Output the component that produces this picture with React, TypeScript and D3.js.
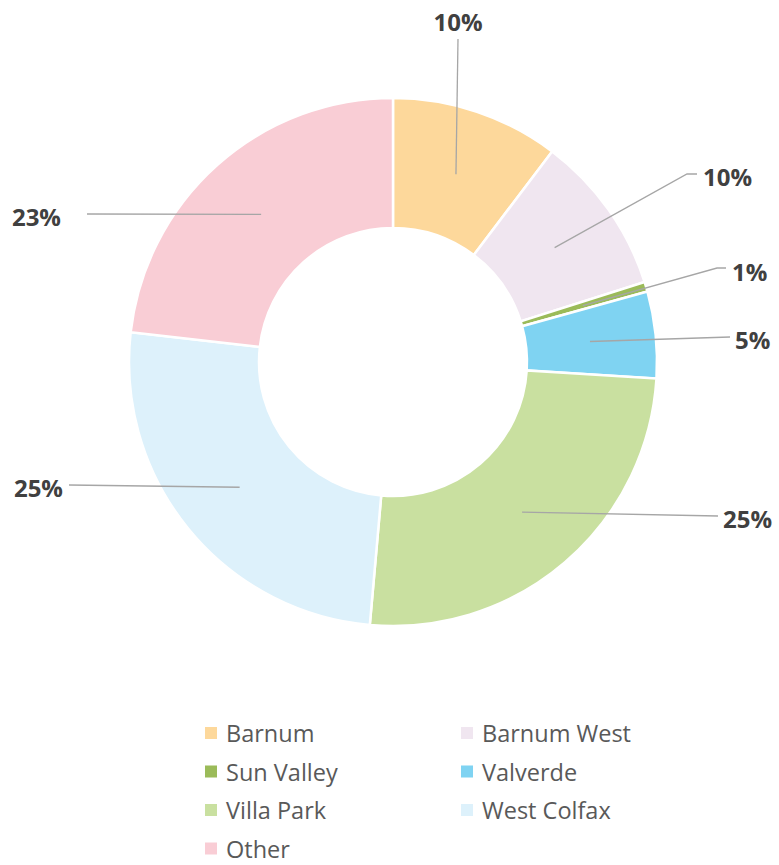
import React from "react";
import * as d3 from "d3";

const categories = ["Barnum", "Barnum West", "Sun Valley", "Valverde", "Villa Park", "West Colfax", "Other"];
const shares = [10.3, 9.8, 0.6, 5.3, 25.4, 25.4, 23.2];
const colors = ["#FDD89B", "#F0E6F0", "#9BBB59", "#7FD3F2", "#C9E0A0", "#DDF1FB", "#F9CDD5"];

// layout of the data-label leader lines (end point, optional elbow, text anchor)
const labelLayout = [
  { elbow: null, end: [458, 39], text: [458, 21], anchor: "middle" },
  { elbow: [687, 174], end: [697, 174], text: [703, 176], anchor: "start" },
  { elbow: [717, 268], end: [726, 268], text: [732, 271], anchor: "start" },
  { elbow: null, end: [730, 337], text: [735, 339], anchor: "start" },
  { elbow: null, end: [718, 516], text: [723, 518], anchor: "start" },
  { elbow: null, end: [69, 485], text: [63, 487], anchor: "end" },
  { elbow: null, end: [87, 214], text: [61, 216], anchor: "end" },
];

const W = 779, H = 865;
const cx = 393, cy = 362;
const rOuter = 264, rInner = 134;

export default function App() {
  const total = d3.sum(shares);
  const pie = d3.pie<number>().sort(null).value((d) => d)(shares);
  const arc = d3.arc<d3.PieArcDatum<number>>().innerRadius(rInner).outerRadius(rOuter);
  const mid = d3.arc<d3.PieArcDatum<number>>().innerRadius(198).outerRadius(198);

  const legendCols = [205, 461];
  const legendRow0 = 733, legendStep = 38.5;

  return (
    <svg width={W} height={H} style={{ position: "absolute", left: 0, top: 0 }}
      fontFamily="'Open Sans', 'Noto Sans', sans-serif">
      <rect width={W} height={H} fill="#fff" />
      <g transform={`translate(${cx},${cy})`}>
        {pie.map((p, i) => (
          <path key={i} d={arc(p) || ""} fill={colors[i]} stroke="#fff" strokeWidth={2.5} />
        ))}
      </g>
      {pie.map((p, i) => {
        const [mx, my] = mid.centroid(p);
        const L = labelLayout[i];
        const pts: number[][] = [[cx + mx, cy + my]];
        if (L.elbow) pts.push(L.elbow);
        pts.push(L.end);
        const pct = Math.round((shares[i] / total) * 100) + "%";
        return (
          <g key={i}>
            <polyline points={pts.map((q) => q.join(",")).join(" ")} fill="none" stroke="#A6A6A6" strokeWidth={1.3} />
            <text x={L.text[0]} y={L.text[1]} textAnchor={L.anchor as any} dominantBaseline="central"
              fontSize={24} fontWeight={700} fill="#404040">{pct}</text>
          </g>
        );
      })}
      {categories.map((c, i) => {
        const col = i % 2, row = Math.floor(i / 2);
        const x = legendCols[col], y = legendRow0 + row * legendStep;
        return (
          <g key={c}>
            <rect x={x} y={y - 6} width={12} height={12} fill={colors[i]} />
            <text x={x + 21} y={y} dominantBaseline="central" fontSize={23.5} fill="#595959">{c}</text>
          </g>
        );
      })}
    </svg>
  );
}
